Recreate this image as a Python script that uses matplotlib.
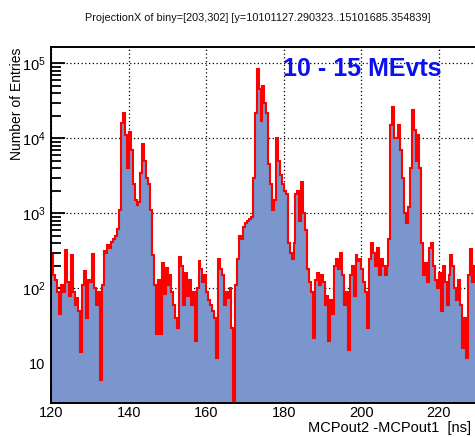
import numpy as np
import matplotlib
matplotlib.use("Agg")
import matplotlib.pyplot as plt
from matplotlib.ticker import FixedLocator, LogLocator, FuncFormatter, MultipleLocator

plt.rcParams['font.family'] = ['Liberation Sans', 'DejaVu Sans']
plt.rcParams['mathtext.fontset'] = 'custom'
plt.rcParams['mathtext.rm'] = 'Liberation Sans'

# time difference histogram, 0.5 ns bins starting at 120 ns
x_start = 120.0
bin_width = 0.5
x_ticks = [120, 140, 160, 180, 200, 220]

counts_120_130 = [280, 150, 130, 90, 45, 110, 90, 330, 120, 80,
                  280, 90, 60, 75, 50, 14, 110, 170, 40, 130]
counts_130_140 = [120, 290, 100, 60, 90, 6, 110, 320, 300, 380,
                  350, 420, 450, 500, 620, 1100, 16000, 22000, 11000, 4000]
counts_140_150 = [12000, 7000, 2500, 1500, 1300, 1400, 3500, 8500, 5000, 3000,
                  2500, 1100, 280, 110, 25, 130, 25, 220, 85, 190]
counts_150_160 = [110, 150, 90, 60, 40, 30, 260, 200, 60, 160,
                  80, 130, 60, 90, 20, 100, 230, 180, 120, 150]
counts_160_170 = [90, 70, 60, 50, 40, 12, 250, 180, 150, 60,
                  90, 75, 100, 30, 1, 110, 250, 500, 450, 650]
counts_170_180 = [750, 800, 850, 900, 3000, 22000, 85000, 45000, 17000, 50000,
                  30000, 22000, 4500, 2500, 1100, 1500, 10000, 5000, 3200, 2500]
counts_180_190 = [2000, 1800, 400, 300, 250, 400, 1800, 2000, 800, 2600,
                  1000, 600, 180, 120, 90, 22, 130, 160, 110, 150]
counts_190_200 = [120, 60, 80, 20, 70, 45, 200, 250, 180, 300,
                  150, 60, 90, 15, 150, 200, 80, 280, 230, 250]
counts_200_210 = [180, 120, 90, 30, 250, 400, 300, 200, 350, 150,
                  250, 200, 150, 200, 450, 15000, 26000, 10000, 10000, 15000]
counts_210_220 = [7000, 3000, 1000, 750, 1200, 4000, 24000, 13000, 5000, 11000,
                  4000, 400, 150, 220, 120, 350, 400, 200, 130, 100]
counts_220_230 = [160, 50, 200, 120, 60, 150, 280, 200, 100, 70,
                  130, 60, 16, 40, 12, 150, 340, 120, 200, 150]

counts = np.array(counts_120_130 + counts_130_140 + counts_140_150 + counts_150_160
                  + counts_160_170 + counts_170_180 + counts_180_190 + counts_190_200
                  + counts_200_210 + counts_210_220 + counts_220_230, dtype=float)
edges = x_start + bin_width * np.arange(len(counts) + 1)

fig = plt.figure(figsize=(4.75, 4.37), dpi=100)
# the pad is wider than the saved frame, so the axis runs past the right edge
ax = fig.add_axes([0.108, 0.0785, 0.979, 0.813])

ax.stairs(counts, edges, baseline=0.5, fill=True, color='#7a96cd', zorder=2)
ax.stairs(counts, edges, baseline=0.5, color='#ff0000', lw=1.5, zorder=3)

ax.set_yscale('log')
ax.set_xlim(120, 240)
ax.set_ylim(3.0, 1.63e5)

ax.xaxis.set_major_locator(FixedLocator(x_ticks))
ax.xaxis.set_minor_locator(MultipleLocator(5))
ax.yaxis.set_major_locator(FixedLocator([10, 100, 1e3, 1e4, 1e5]))
ax.yaxis.set_minor_locator(LogLocator(base=10, subs=np.arange(2, 10)))


def y_label(v, pos):
    e = int(round(np.log10(v)))
    if e == 1:
        return '10'
    return r'$\mathregular{10^{%d}}$' % e


ax.yaxis.set_major_formatter(FuncFormatter(y_label))
ax.yaxis.set_minor_formatter(FuncFormatter(lambda v, p: ''))

ax.tick_params(which='both', direction='in', top=False, right=False,
               labelsize=10.5, width=1.3)
ax.tick_params(which='major', length=10)
ax.tick_params(which='minor', length=5)
ax.tick_params(axis='y', which='minor', length=7)
ax.tick_params(axis='x', pad=2.5)
ax.tick_params(axis='y', pad=4)

ax.grid(True, which='major', color='black', linestyle=(0, (1, 2)), lw=0.9, zorder=1)
for s in ax.spines.values():
    s.set_linewidth(1.4)
    s.set_zorder(5)

fig.text(0.543, 0.958, 'ProjectionX of biny=[203,302] [y=10101127.290323..15101685.354839]',
         ha='center', va='center', fontsize=7.8, color='#111111')
fig.text(0.036, 0.892, 'Number of Entries', rotation=90, ha='center', va='top',
         fontsize=10)
fig.text(0.992, 0.021, 'MCPout2 -MCPout1  [ns]', ha='right', va='center', fontsize=10.5)
fig.text(0.595, 0.842, '10 - 15 MEvts', ha='left', va='center', fontsize=18,
         fontweight='bold', color='#0a10f0')

fig.savefig('out.png', dpi=100)
